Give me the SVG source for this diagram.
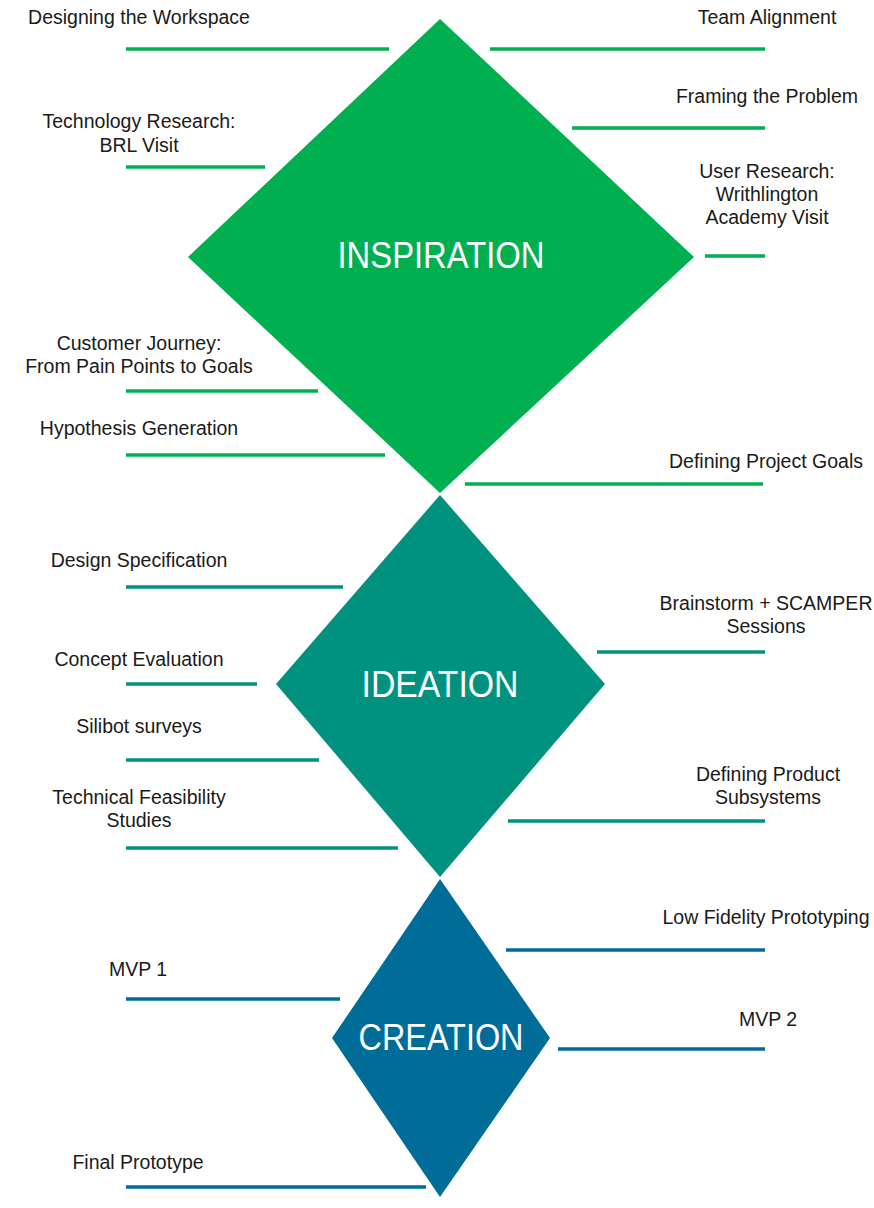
<svg xmlns="http://www.w3.org/2000/svg" width="874" height="1208" viewBox="0 0 874 1208">
<style>
.t{font-family:"Liberation Sans",Arial,sans-serif;font-size:19.5px;fill:#1a1a1a;text-anchor:middle}
.big{font-family:"Liberation Sans",Arial,sans-serif;font-size:37px;fill:#ffffff;text-anchor:middle}
.g{stroke:#00b050;stroke-width:3.5;fill:none}
.tl{stroke:#00927f;stroke-width:3.5;fill:none}
.b{stroke:#006d98;stroke-width:3.5;fill:none}
</style>
<rect width="874" height="1208" fill="#ffffff"/>
<g id="inspiration">
<polygon points="440,19 694,257 440,493 188,257" fill="#00b050"/>
<text class="big" x="441" y="268" textLength="207" lengthAdjust="spacingAndGlyphs">INSPIRATION</text>
</g>
<g id="ideation">
<polygon points="440,495 605,684 440,877 276,684" fill="#00927f"/>
<text class="big" x="440" y="697" textLength="157" lengthAdjust="spacingAndGlyphs">IDEATION</text>
</g>
<g id="creation">
<polygon points="440,879 550,1038 440,1197 332,1038" fill="#006d98"/>
<text class="big" x="441" y="1050" textLength="165" lengthAdjust="spacingAndGlyphs">CREATION</text>
</g>
<g id="connectors">
<line class="g" x1="126" y1="49" x2="389" y2="49"/>
<line class="g" x1="490" y1="49" x2="765" y2="49"/>
<line class="g" x1="572" y1="128" x2="765" y2="128"/>
<line class="g" x1="126" y1="167" x2="265" y2="167"/>
<line class="g" x1="705" y1="256" x2="765" y2="256"/>
<line class="g" x1="126" y1="391" x2="318" y2="391"/>
<line class="g" x1="126" y1="455" x2="385" y2="455"/>
<line class="g" x1="465" y1="484" x2="763" y2="484"/>
<line class="tl" x1="126" y1="587" x2="343" y2="587"/>
<line class="tl" x1="597" y1="652" x2="765" y2="652"/>
<line class="tl" x1="126" y1="684" x2="257" y2="684"/>
<line class="tl" x1="126" y1="760" x2="319" y2="760"/>
<line class="tl" x1="508" y1="821" x2="765" y2="821"/>
<line class="tl" x1="126" y1="848" x2="398" y2="848"/>
<line class="b" x1="506" y1="950" x2="765" y2="950"/>
<line class="b" x1="126" y1="999" x2="340" y2="999"/>
<line class="b" x1="558" y1="1049" x2="765" y2="1049"/>
<line class="b" x1="126" y1="1187" x2="426" y2="1187"/>
</g>
<g id="designing-workspace"><text class="t" x="139" y="24">Designing the Workspace</text></g>
<g id="team-alignment"><text class="t" x="767" y="24">Team Alignment</text></g>
<g id="framing-problem"><text class="t" x="767" y="103">Framing the Problem</text></g>
<g id="technology-research"><text class="t" x="139" y="128">Technology Research:</text><text class="t" x="139" y="152">BRL Visit</text></g>
<g id="user-research"><text class="t" x="767" y="178">User Research:</text><text class="t" x="767" y="201">Writhlington</text><text class="t" x="767" y="224">Academy Visit</text></g>
<g id="customer-journey"><text class="t" x="139" y="350">Customer Journey:</text><text class="t" x="139" y="373">From Pain Points to Goals</text></g>
<g id="hypothesis-generation"><text class="t" x="139" y="435">Hypothesis Generation</text></g>
<g id="defining-project-goals"><text class="t" x="766" y="468">Defining Project Goals</text></g>
<g id="design-specification"><text class="t" x="139" y="567">Design Specification</text></g>
<g id="brainstorm"><text class="t" x="766" y="610">Brainstorm + SCAMPER</text><text class="t" x="766" y="633">Sessions</text></g>
<g id="concept-evaluation"><text class="t" x="139" y="666">Concept Evaluation</text></g>
<g id="silibot-surveys"><text class="t" x="139" y="733">Silibot surveys</text></g>
<g id="defining-product-subsystems"><text class="t" x="768" y="781">Defining Product</text><text class="t" x="768" y="804">Subsystems</text></g>
<g id="technical-feasibility"><text class="t" x="139" y="804">Technical Feasibility</text><text class="t" x="139" y="827">Studies</text></g>
<g id="low-fidelity"><text class="t" x="766" y="924">Low Fidelity Prototyping</text></g>
<g id="mvp1"><text class="t" x="138" y="976">MVP 1</text></g>
<g id="mvp2"><text class="t" x="768" y="1026">MVP 2</text></g>
<g id="final-prototype"><text class="t" x="138" y="1169">Final Prototype</text></g>
</svg>
